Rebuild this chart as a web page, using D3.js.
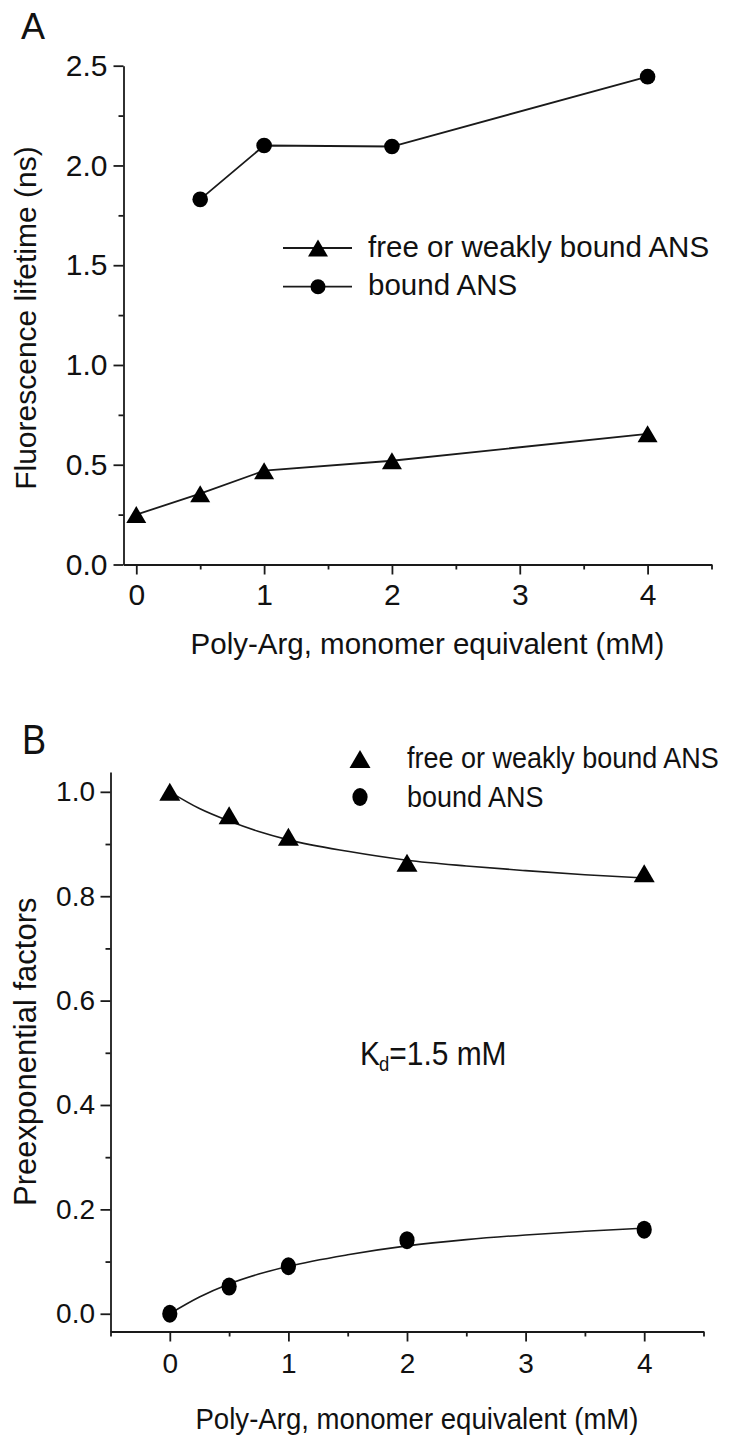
<!DOCTYPE html>
<html>
<head>
<meta charset="utf-8">
<script src="https://cdn.jsdelivr.net/npm/d3@7"></script>
<style>
  html, body { margin: 0; padding: 0; background: #fff; }
  svg { display: block; font-family: "Liberation Sans", Arial, Helvetica, sans-serif; }
</style>
</head>
<body>
<svg id="chart" width="736" height="1447"></svg>
<script>
// ---------- Data ----------
// Panel A: fluorescence lifetimes (ns)
const xFreeA = [0, 0.5, 1, 2, 4];
const freeA = [0.25, 0.355, 0.47, 0.52, 0.655];
const xBoundA = [0.5, 1, 2, 4];
const boundA = [1.83, 2.10, 2.095, 2.445];

// Panel B: preexponential factors
const xB = [0, 0.5, 1, 2, 4];
const freeB = [1.0, 0.955, 0.914, 0.864, 0.844];
const boundB = [0.0, 0.052, 0.091, 0.141, 0.161];

// Panel B: fitted curves
const xFit = [0, 0.25, 0.5, 0.75, 1, 1.5, 2, 2.5, 3, 3.5, 4];
const freeFit = [1.0, 0.968, 0.944, 0.924, 0.908, 0.886, 0.869, 0.858, 0.849, 0.841, 0.835];
const boundFit = [0.0, 0.032, 0.057, 0.076, 0.091, 0.113, 0.130, 0.142, 0.151, 0.158, 0.164];

// Tick values
const xMajor = [0, 1, 2, 3, 4];
const xMinorA = [0.5, 1.5, 2.5, 3.5, 4.5];
const xMinorB = [-0.5, 0.5, 1.5, 2.5, 3.5, 4.5];
const yMajorA = [0, 0.5, 1.0, 1.5, 2.0, 2.5];
const yMinorA = [0.25, 0.75, 1.25, 1.75, 2.25];
const yMajorB = [0, 0.2, 0.4, 0.6, 0.8, 1.0];
const yMinorB = [0.1, 0.3, 0.5, 0.7, 0.9];

// Texts
const xTitle = "Poly-Arg, monomer equivalent (mM)";
const yTitleA = "Fluorescence lifetime (ns)";
const yTitleB = "Preexponential factors";
const legendLabels = ["free or weakly bound ANS", "bound ANS"];

// ---------- Drawing ----------
const svg = d3.select("#chart");
const INK = "#1a1a1a";

svg.append("rect").attr("width", 736).attr("height", 1447).attr("fill", "#fff");

const triPath = (w, h) => `M0,${-h/2}L${w/2},${h/2}L${-w/2},${h/2}Z`;

function styleAxis(g, fontSize) {
  g.selectAll("path.domain").attr("stroke", INK).attr("stroke-width", 1.8);
  g.selectAll(".tick line").attr("stroke", INK).attr("stroke-width", 1.8);
  g.selectAll(".tick text").attr("fill", "#111").attr("font-size", fontSize)
    .attr("font-family", "\"Liberation Sans\", Arial, sans-serif");
}

// ===== Panel A =====
const xA = d3.scaleLinear().domain([-0.1, 4.5]).range([123.5, 711.5]);
const yA = d3.scaleLinear().domain([0, 2.5]).range([564.5, 65.7]);
const gA = svg.append("g");

// axes
const yAxA = gA.append("g").attr("transform", `translate(${xA(-0.1)},0)`)
  .call(d3.axisLeft(yA).tickValues(yMajorA).tickSize(10).tickSizeOuter(0).tickPadding(6).tickFormat(d3.format(".1f")));
styleAxis(yAxA, 30);
const yAxAm = gA.append("g").attr("transform", `translate(${xA(-0.1)},0)`)
  .call(d3.axisLeft(yA).tickValues(yMinorA).tickSize(5).tickSizeOuter(0).tickFormat(""));
yAxAm.select("path.domain").remove();
styleAxis(yAxAm, 30);

const xAxA = gA.append("g").attr("transform", `translate(0,${yA(0)})`)
  .call(d3.axisBottom(xA).tickValues(xMajor).tickSize(10).tickSizeOuter(0).tickPadding(9).tickFormat(d3.format("d")));
styleAxis(xAxA, 30);
const xAxAm = gA.append("g").attr("transform", `translate(0,${yA(0)})`)
  .call(d3.axisBottom(xA).tickValues(xMinorA).tickSize(5).tickSizeOuter(0).tickFormat(""));
xAxAm.select("path.domain").remove();
styleAxis(xAxAm, 30);

// lines
const lineA = d3.line().x(d => xA(d[0])).y(d => yA(d[1]));
const freeAPts = xFreeA.map((x, i) => [x, freeA[i]]);
const boundAPts = xBoundA.map((x, i) => [x, boundA[i]]);
gA.append("path").attr("d", lineA(freeAPts)).attr("fill", "none").attr("stroke", INK).attr("stroke-width", 1.8);
gA.append("path").attr("d", lineA(boundAPts)).attr("fill", "none").attr("stroke", INK).attr("stroke-width", 1.8);

gA.selectAll("path.triA").data(freeAPts).enter().append("path")
  .attr("d", triPath(20, 17)).attr("fill", "#000")
  .attr("transform", d => `translate(${xA(d[0])},${yA(d[1])})`);
gA.selectAll("circle.cirA").data(boundAPts).enter().append("circle")
  .attr("cx", d => xA(d[0])).attr("cy", d => yA(d[1])).attr("r", 7.8).attr("fill", "#000");

// legend A
const legA = gA.append("g");
[248, 286.7].forEach((ly, i) => {
  legA.append("line").attr("x1", 283).attr("x2", 352).attr("y1", ly).attr("y2", ly)
    .attr("stroke", INK).attr("stroke-width", 1.8);
  if (i === 0) legA.append("path").attr("d", triPath(20, 17)).attr("transform", `translate(318,${ly})`).attr("fill", "#000");
  else legA.append("circle").attr("cx", 318).attr("cy", ly).attr("r", 7.5).attr("fill", "#000");
  legA.append("text").attr("x", 368).attr("y", ly + 8.5).attr("font-size", 29.5).attr("fill", "#111")
    .text(legendLabels[i]);
});

// titles A
gA.append("text").attr("x", 21).attr("y", 39).attr("font-size", 36).attr("fill", "#111").text("A");
gA.append("text").attr("transform", `translate(36,${(yA(0) + yA(2.5)) / 2 + 3}) rotate(-90)`)
  .attr("text-anchor", "middle").attr("font-size", 30).attr("fill", "#111").text(yTitleA);
gA.append("text").attr("x", (xA(-0.1) + xA(4.5)) / 2 + 10).attr("y", 654)
  .attr("text-anchor", "middle").attr("font-size", 29.5).attr("fill", "#111").text(xTitle);

// ===== Panel B =====
const xBs = d3.scaleLinear().domain([-0.5, 4.5]).range([110.5, 703.5]);
const yBs = d3.scaleLinear().domain([-0.034, 1.038]).range([1331.5, 772]);
const gB = svg.append("g");

const yAxB = gB.append("g").attr("transform", `translate(${xBs(-0.5)},0)`)
  .call(d3.axisLeft(yBs).tickValues(yMajorB).tickSize(10).tickSizeOuter(0).tickPadding(5.5).tickFormat(d3.format(".1f")));
styleAxis(yAxB, 28);
const yAxBm = gB.append("g").attr("transform", `translate(${xBs(-0.5)},0)`)
  .call(d3.axisLeft(yBs).tickValues(yMinorB).tickSize(5).tickSizeOuter(0).tickFormat(""));
yAxBm.select("path.domain").remove();
styleAxis(yAxBm, 28);

const xAxB = gB.append("g").attr("transform", `translate(0,${yBs(-0.034)})`)
  .call(d3.axisBottom(xBs).tickValues(xMajor).tickSize(10).tickSizeOuter(0).tickPadding(11.5).tickFormat(d3.format("d")));
styleAxis(xAxB, 28);
const xAxBm = gB.append("g").attr("transform", `translate(0,${yBs(-0.034)})`)
  .call(d3.axisBottom(xBs).tickValues(xMinorB).tickSize(5).tickSizeOuter(0).tickFormat(""));
xAxBm.select("path.domain").remove();
styleAxis(xAxBm, 28);

// fitted curves
const lineB = d3.line().x(d => xBs(d[0])).y(d => yBs(d[1])).curve(d3.curveMonotoneX);
gB.append("path").attr("d", lineB(xFit.map((x, i) => [x, freeFit[i]])))
  .attr("fill", "none").attr("stroke", INK).attr("stroke-width", 1.6);
gB.append("path").attr("d", lineB(xFit.map((x, i) => [x, boundFit[i]])))
  .attr("fill", "none").attr("stroke", INK).attr("stroke-width", 1.6);

// markers
gB.selectAll("path.triB").data(xB.map((x, i) => [x, freeB[i]])).enter().append("path")
  .attr("d", triPath(21, 18)).attr("fill", "#000")
  .attr("transform", d => `translate(${xBs(d[0])},${yBs(d[1])})`);
gB.selectAll("ellipse.cirB").data(xB.map((x, i) => [x, boundB[i]])).enter().append("ellipse")
  .attr("cx", d => xBs(d[0])).attr("cy", d => yBs(d[1])).attr("rx", 7.6).attr("ry", 9).attr("fill", "#000");

// legend B
const legB = gB.append("g");
legB.append("path").attr("d", triPath(21, 18)).attr("transform", "translate(360,759)").attr("fill", "#000");
legB.append("ellipse").attr("cx", 360).attr("cy", 797).attr("rx", 7.6).attr("ry", 9).attr("fill", "#000");
[768, 807].forEach((by, i) => {
  legB.append("text").attr("transform", `translate(407,${by}) scale(0.93,1)`)
    .attr("font-size", 29).attr("fill", "#111").text(legendLabels[i]);
});

// Kd annotation
const kd = gB.append("text").attr("transform", "translate(360,1065) scale(0.88,1)")
  .attr("font-size", 34).attr("fill", "#111");
kd.append("tspan").text("K");
kd.append("tspan").attr("font-size", 21).attr("dy", 6).attr("dx", -1).text("d");
kd.append("tspan").attr("dy", -6).text("=1.5 mM");

// titles B
gB.append("text").attr("transform", "translate(22,754) scale(0.86,1)").attr("font-size", 42).attr("fill", "#111").text("B");
gB.append("text").attr("transform", `translate(36,${(yBs(-0.034) + yBs(1.038)) / 2}) rotate(-90)`)
  .attr("text-anchor", "middle").attr("font-size", 31).attr("fill", "#111").text(yTitleB);
gB.append("text").attr("transform", `translate(${(xBs(-0.5) + xBs(4.5)) / 2 + 10},1429) scale(0.92,1)`)
  .attr("text-anchor", "middle").attr("font-size", 30).attr("fill", "#111").text(xTitle);
</script>
</body>
</html>
